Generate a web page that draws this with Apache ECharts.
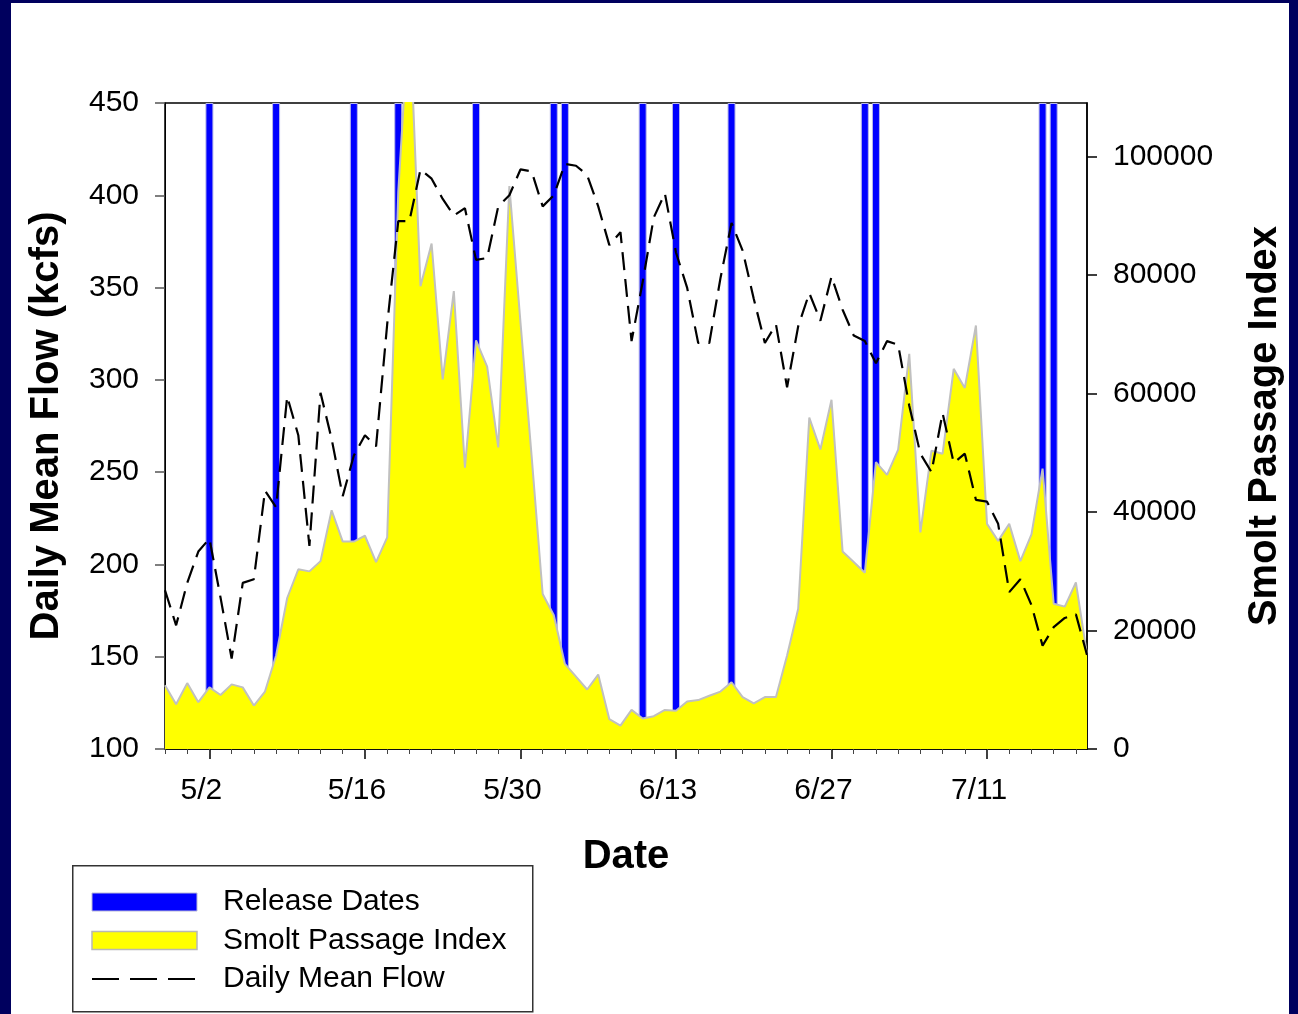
<!DOCTYPE html>
<html>
<head>
<meta charset="utf-8">
<script src="https://cdn.jsdelivr.net/npm/echarts@6/dist/echarts.min.js"></script>
<style>
  html, body { margin: 0; padding: 0; background: #00005e; }
  #frame { position: absolute; left: 11px; top: 3px; width: 1278px; height: 1011px; background: #ffffff; }
  #chart { position: absolute; left: 0; top: 0; width: 1298px; height: 1014px; }
</style>
</head>
<body>
<div id="frame"></div>
<div id="chart"></div>
<script>
// ---- data ----
const categories = [
  '4/28','4/29','4/30',
  '5/1','5/2','5/3','5/4','5/5','5/6','5/7','5/8','5/9','5/10','5/11','5/12','5/13','5/14','5/15','5/16',
  '5/17','5/18','5/19','5/20','5/21','5/22','5/23','5/24','5/25','5/26','5/27','5/28','5/29','5/30','5/31',
  '6/1','6/2','6/3','6/4','6/5','6/6','6/7','6/8','6/9','6/10','6/11','6/12','6/13','6/14','6/15','6/16',
  '6/17','6/18','6/19','6/20','6/21','6/22','6/23','6/24','6/25','6/26','6/27','6/28','6/29','6/30',
  '7/1','7/2','7/3','7/4','7/5','7/6','7/7','7/8','7/9','7/10','7/11','7/12','7/13','7/14','7/15','7/16',
  '7/17','7/18','7/19','7/20'
];
const xTickLabels = ['5/2','5/16','5/30','6/13','6/27','7/11'];
const releaseDates = ['5/2','5/8','5/15','5/19','5/26','6/2','6/3','6/10','6/13','6/18','6/30','7/1','7/16','7/17'];
const smoltPassage = [
  10770, 7540, 11120, 7900, 10400, 9110, 10900, 10400, 7330, 9690,
  15780, 25480, 30330, 29970, 31700, 40290, 35000, 35000, 35980, 31540,
  35700, 94000, 125000, 78100, 85300, 62360, 77270, 47460, 68960, 64500,
  50900, 94970, 72000, 49500, 26150, 22580, 14350, 12200, 10040, 12560,
  5030, 3950, 6600, 5160, 5530, 6600, 6460, 8030, 8250, 8980,
  9690, 11260, 8760, 7680, 8760, 8760, 15780, 23660, 55920, 50530,
  58920, 33330, 31540, 29750, 48390, 46240, 50530, 66670, 36560, 50330,
  49820, 64150, 60930, 71460, 37990, 35120, 37990, 31700, 36200, 47310,
  24520, 24020, 28100, 15920
];
const dailyMeanFlow = [
  186, 167, 190, 207, 214, 182, 149, 190, 192, 240,
  231, 291, 270, 210, 293, 268, 237, 259, 270, 264,
  330, 386, 386, 414, 409, 398, 389, 393, 365, 366,
  394, 400, 414, 413, 394, 400, 417, 416, 411, 394,
  373, 380, 321, 353, 388, 401, 369, 350, 320, 320,
  355, 385, 370, 344, 320, 330, 296, 329, 347, 332,
  356, 338, 324, 321, 309, 321, 319, 286, 260, 250,
  282, 255, 260, 235, 234, 222, 185, 192, 178, 156,
  166, 171, 173, 151
];
const leftTicks = [100, 150, 200, 250, 300, 350, 400, 450];
const rightTicks = [0, 20000, 40000, 60000, 80000, 100000];
const rightMax = 109000;

// ---- build ----
const releaseBars = categories.map(c => releaseDates.includes(c) ? rightMax : '-');
const FONT = "'Liberation Sans', Arial, sans-serif";
const isMajor = (i, v) => xTickLabels.includes(v);

const chart = echarts.init(document.getElementById('chart'), null, { renderer: 'canvas' });
chart.setOption({
  animation: false,
  backgroundColor: 'transparent',
  textStyle: { fontFamily: FONT, color: '#000' },
  grid: { left: 165, top: 103, right: 211, bottom: 265, show: true, borderColor: '#000', borderWidth: 1.5, backgroundColor: '#fff' },
  graphic: [{
    type: 'rect', left: 72, top: 865, z: 0,
    shape: { width: 460, height: 146 },
    style: { fill: '#fff', stroke: '#333', lineWidth: 1.5 }
  }],
  legend: {
    orient: 'vertical', left: 91, top: 887, padding: 0,
    itemWidth: 105, itemHeight: 18, itemGap: 8.5,
    textStyle: { fontSize: 30, fontFamily: FONT, color: '#000', padding: [0, 0, 0, 21] },
    data: [
      { name: 'Release Dates', icon: 'rect', itemStyle: { color: '#0000ff', borderColor: '#b8b8d8', borderWidth: 1 } },
      { name: 'Smolt Passage Index', icon: 'rect', itemStyle: { color: '#ffff00', borderColor: '#b8b8b8', borderWidth: 1.5 } },
      { name: 'Daily Mean Flow', itemStyle: { color: 'rgba(0,0,0,0)', borderColor: 'rgba(0,0,0,0)', borderWidth: 0, opacity: 0 },
        lineStyle: { color: '#000', width: 2, type: [27, 11] } }
    ]
  },
  xAxis: [{
    type: 'category', data: categories, boundaryGap: false,
    name: 'Date', nameLocation: 'middle', nameGap: 88,
    nameTextStyle: { fontSize: 40, fontWeight: 'bold', fontFamily: FONT, color: '#000' },
    axisLine: { lineStyle: { color: '#000', width: 1.5 } },
    axisTick: { show: true, interval: isMajor, length: 10, lineStyle: { color: '#000', width: 1.5 } },
    axisLabel: { interval: isMajor, fontSize: 30, fontFamily: FONT, color: '#000', margin: 27, padding: [0, 16, 0, 0] },
    splitLine: { show: false }
  }, {
    type: 'category', data: categories, boundaryGap: false, position: 'bottom',
    axisLine: { show: false },
    axisTick: { show: true, interval: (i) => i % 2 === 0, length: 5, lineStyle: { color: '#444', width: 1 } },
    axisLabel: { show: false },
    splitLine: { show: false }
  }],
  yAxis: [{
    type: 'value', min: 100, max: 450, interval: 50, position: 'left',
    name: 'Daily Mean Flow (kcfs)', nameLocation: 'middle', nameRotate: 90, nameGap: 98,
    nameTextStyle: { fontSize: 40, fontWeight: 'bold', fontFamily: FONT, color: '#000' },
    axisLine: { show: true, lineStyle: { color: '#000', width: 1 } },
    axisTick: { show: true, length: 10, customValues: leftTicks, lineStyle: { color: '#555', width: 1.5 } },
    axisLabel: { fontSize: 30, fontFamily: FONT, color: '#000', margin: 26, customValues: leftTicks },
    splitLine: { show: false }
  }, {
    type: 'value', min: 0, max: rightMax, position: 'right',
    name: 'Smolt Passage Index', nameLocation: 'middle', nameRotate: 90, nameGap: 158,
    nameTextStyle: { fontSize: 40, fontWeight: 'bold', fontFamily: FONT, color: '#000' },
    axisLine: { show: true, lineStyle: { color: '#000', width: 1.5 } },
    axisTick: { show: true, length: 10, customValues: rightTicks, lineStyle: { color: '#000', width: 1.5 } },
    axisLabel: { fontSize: 30, fontFamily: FONT, color: '#000', margin: 26, customValues: rightTicks,
      formatter: (v) => String(v) },
    splitLine: { show: false }
  }],
  series: [{
    name: 'Release Dates', type: 'bar', xAxisIndex: 0, yAxisIndex: 1, z: 1,
    data: releaseBars, barWidth: 8,
    itemStyle: { color: '#0000ff', borderColor: '#b8b8e8', borderWidth: 1 }
  }, {
    name: 'Smolt Passage Index', type: 'line', xAxisIndex: 0, yAxisIndex: 1, z: 2,
    data: smoltPassage, symbol: 'none', clip: true,
    itemStyle: { color: '#ffff00', borderColor: '#b8b8b8' },
    lineStyle: { color: '#c0c0c0', width: 2 },
    areaStyle: { color: '#ffff00', opacity: 1 }
  }, {
    name: 'Daily Mean Flow', type: 'line', xAxisIndex: 0, yAxisIndex: 0, z: 3,
    data: dailyMeanFlow, symbol: 'none',
    itemStyle: { color: '#000' },
    lineStyle: { color: '#000', width: 2.2, type: [18, 9] }
  }]
});
</script>
</body>
</html>
